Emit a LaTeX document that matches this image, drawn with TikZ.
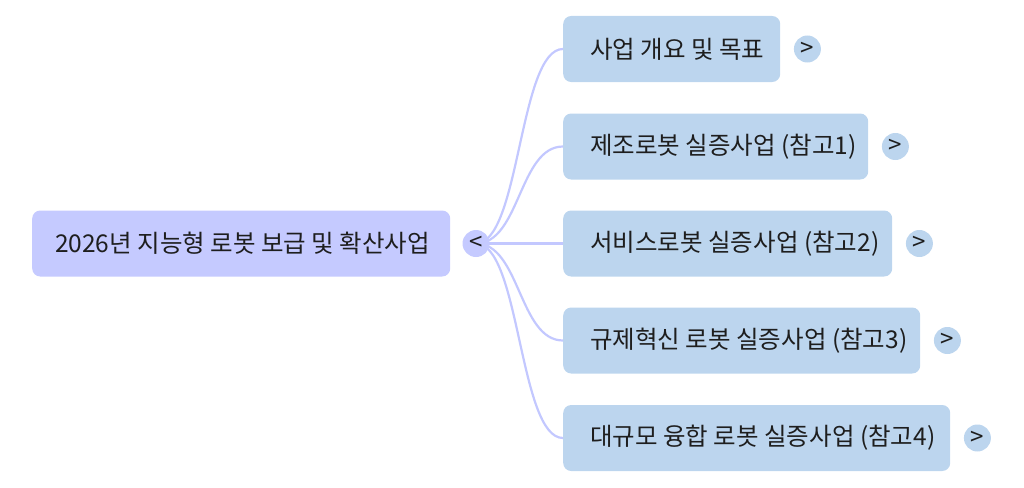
\documentclass[tikz,border=0pt]{standalone}
\usepackage{fontspec}
\setmainfont{Noto Sans CJK KR}
\usetikzlibrary{backgrounds}
\definecolor{rootfill}{HTML}{C5CAFF}
\definecolor{childfill}{HTML}{BCD5EE}
\definecolor{connc}{HTML}{C3C8FF}
\definecolor{txt}{HTML}{1E1E1E}
\tikzset{
  box/.style={rounded corners=8pt, minimum height=66pt, inner xsep=0pt, inner ysep=0pt,
    anchor=west, font=\fontsize{24.5pt}{27pt}\selectfont, text=txt},
  rootbox/.style={box, fill=rootfill},
  childbox/.style={box, fill=childfill},
  tog/.style={circle, minimum size=27pt, inner sep=0pt, font=\fontsize{24pt}{25pt}\selectfont, text=txt},
  rtog/.style={tog, fill=rootfill},
  ctog/.style={tog, fill=childfill},
  conn/.style={draw=connc, line width=2.2pt},
}
\begin{document}
\begin{tikzpicture}[x=1pt,y=-1pt]
\useasboundingbox (0,0) rectangle (1024,487);
\node[rootbox, minimum width=418pt] (root) at (32,243.5) {\makebox[418pt][l]{\hspace{23pt}2026년 지능형 로봇 보급 및 확산사업}};
\node[rtog] (rt) at (476,243.5) {<};
\node[childbox, minimum width=217pt] (c1) at (563,49) {\makebox[217pt][l]{\hspace{27pt}사업 개요 및 목표}};
\node[childbox, minimum width=305pt] (c2) at (563,146.5) {\makebox[305pt][l]{\hspace{27pt}제조로봇 실증사업 (참고1)}};
\node[childbox, minimum width=329pt] (c3) at (563,243.5) {\makebox[329pt][l]{\hspace{27pt}서비스로봇 실증사업 (참고2)}};
\node[childbox, minimum width=357pt] (c4) at (563,340.5) {\makebox[357pt][l]{\hspace{27pt}규제혁신 로봇 실증사업 (참고3)}};
\node[childbox, minimum width=387pt] (c5) at (563,438) {\makebox[387pt][l]{\hspace{27pt}대규모 융합 로봇 실증사업 (참고4)}};
\node[ctog] (t1) at ([xshift=27pt]c1.east) {>};
\node[ctog] (t2) at ([xshift=27pt]c2.east) {>};
\node[ctog] (t3) at ([xshift=27pt]c3.east) {>};
\node[ctog] (t4) at ([xshift=27pt]c4.east) {>};
\node[ctog] (t5) at ([xshift=27pt]c5.east) {>};
\begin{scope}[on background layer]
\foreach \c in {c1,c2,c3,c4,c5}{
  \draw[conn] (rt.center) .. controls ([xshift=44pt]rt.center) and ([xshift=-44pt]\c.west) .. (\c.west);
}
\end{scope}
\end{tikzpicture}
\end{document}
